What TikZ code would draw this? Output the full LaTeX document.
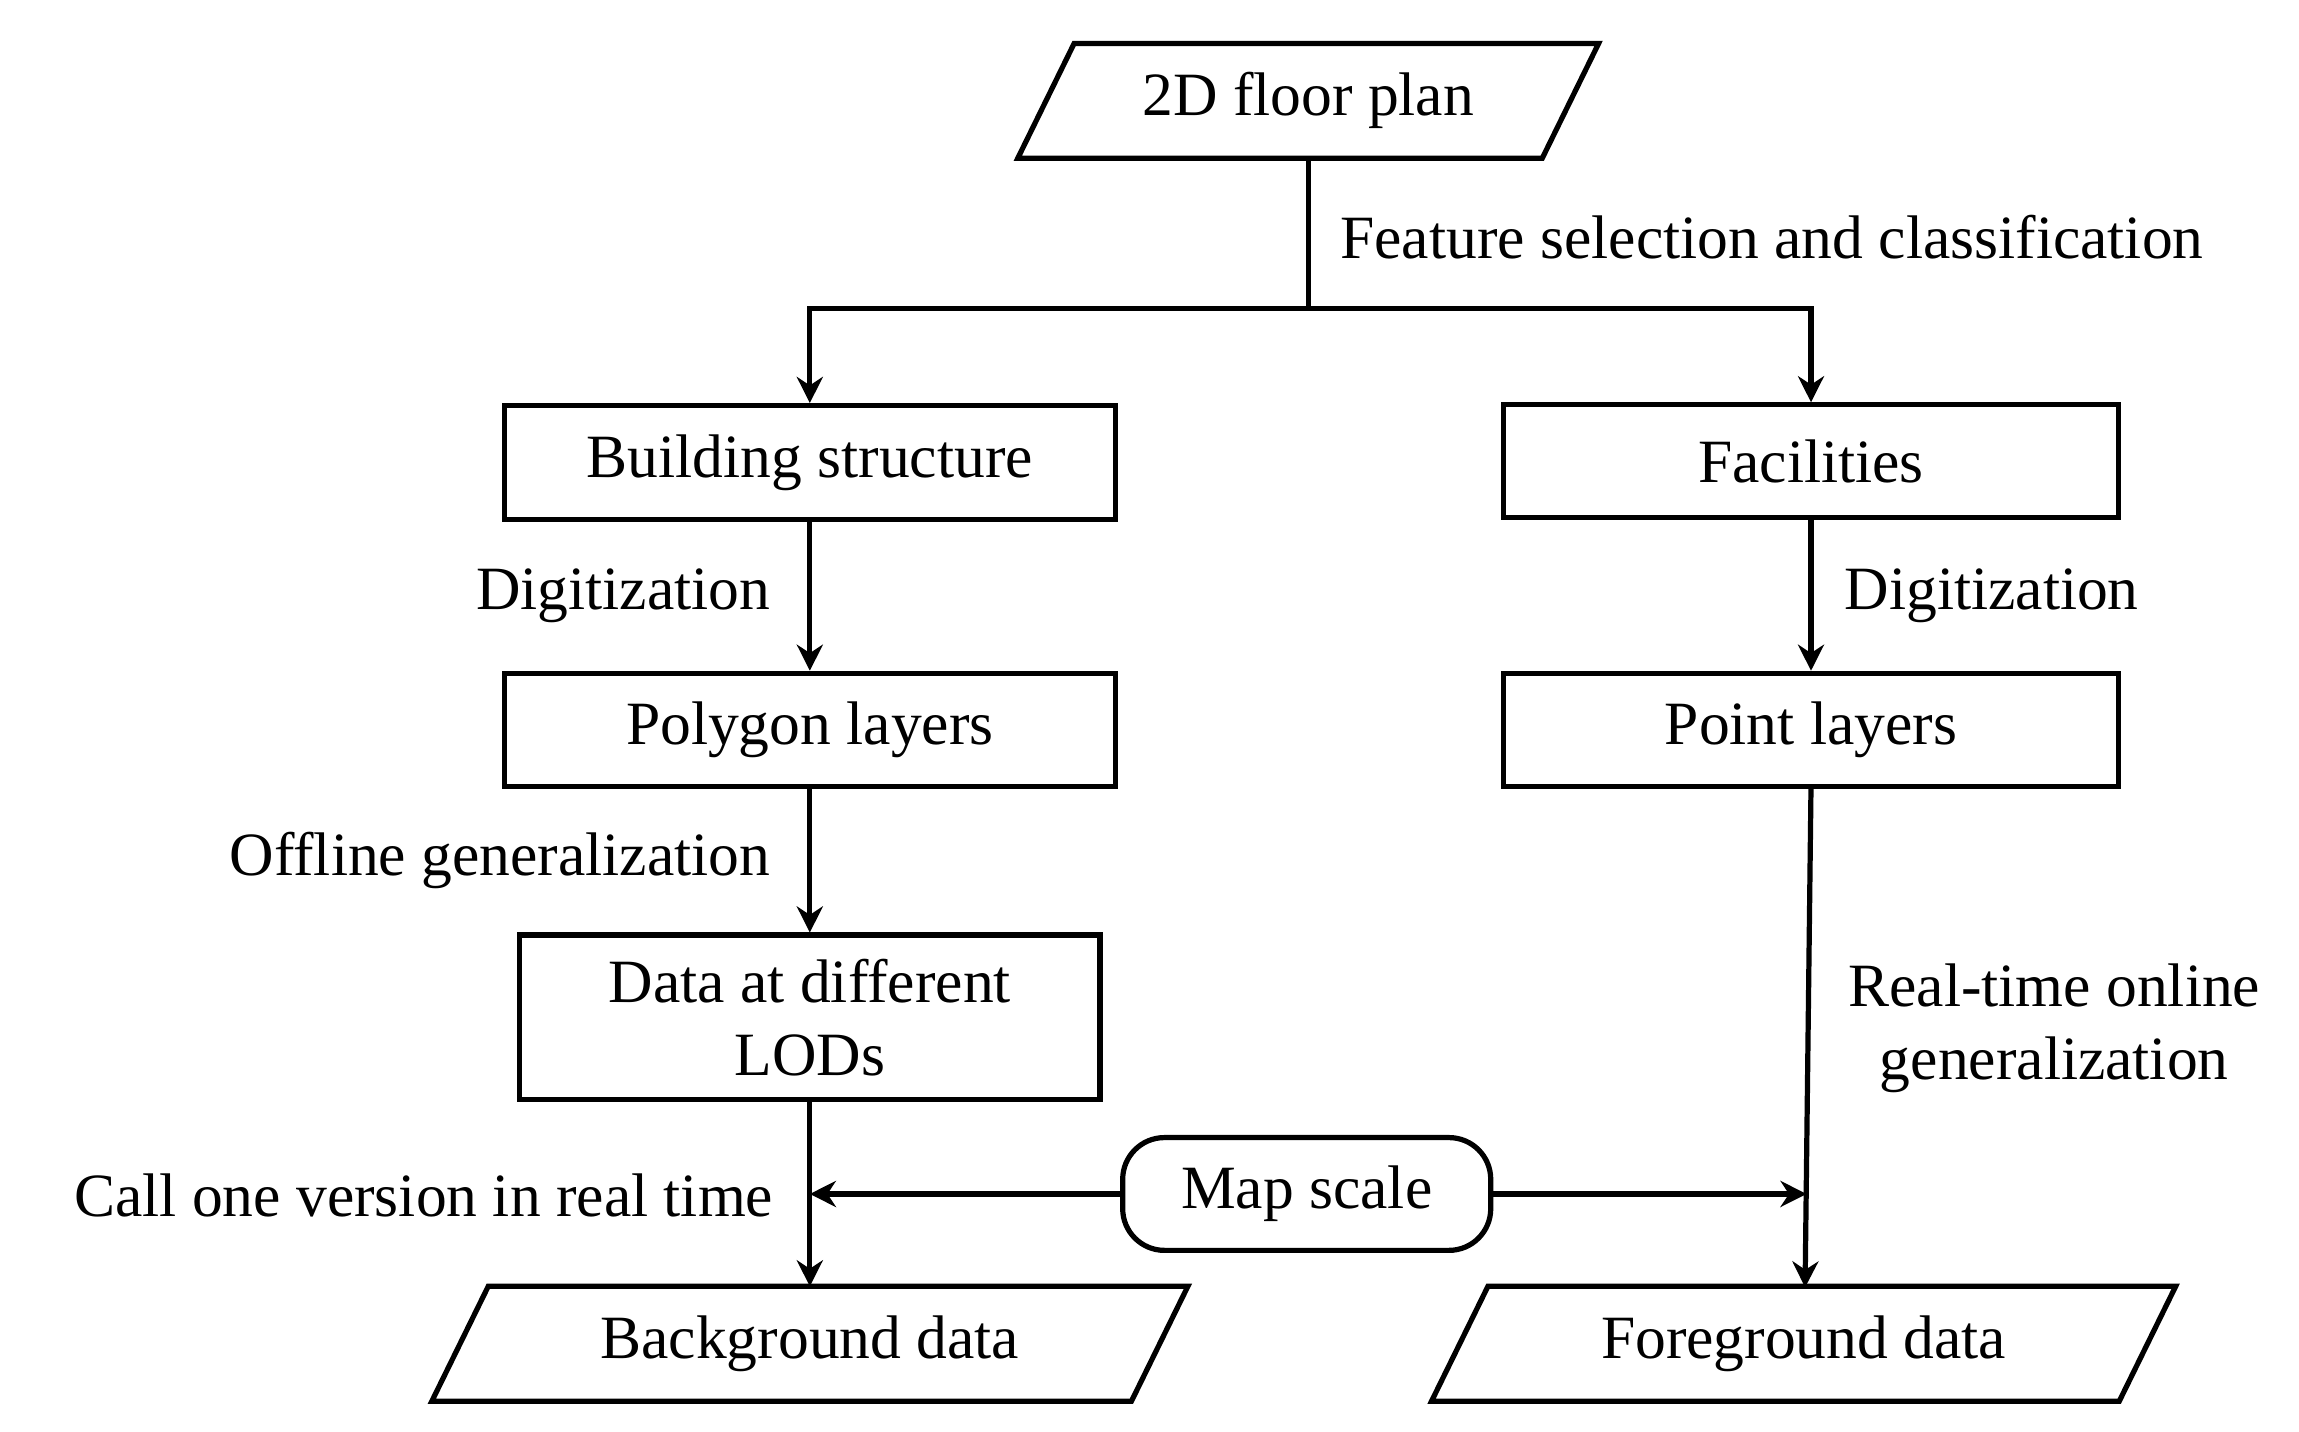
\documentclass[tikz,border=0pt]{standalone}
\usepackage{fontspec}
\setmainfont{Liberation Serif}
\usetikzlibrary{arrows.meta}
\begin{document}
\begin{tikzpicture}[x=0.01cm,y=-0.01cm,
  every node/.style={font=\fontsize{11.8}{14}\selectfont},
  box/.style={draw,line width=1pt,minimum width=#1,align=center,inner sep=0pt},
  pnode/.style={minimum width=#1,minimum height=0.76cm,inner sep=0pt},
  arr/.style={line width=1pt,-{Stealth[length=5pt,width=5pt]}},
  ln/.style={line width=1pt},
  lab/.style={inner sep=0pt}]
\useasboundingbox (0,0) rectangle (1550,965);
% parallelogram nodes
\node[pnode=3.52cm] (fp) at (882,68) {2D floor plan};
\draw[ln] ([xshift=0.19cm]fp.north west) -- ([xshift=0.19cm]fp.north east) -- ([xshift=-0.19cm]fp.south east) -- ([xshift=-0.19cm]fp.south west) -- cycle;
\node[pnode=4.70cm] (bg) at (546,906) {Background data};
\draw[ln] ([xshift=0.19cm]bg.north west) -- ([xshift=0.19cm]bg.north east) -- ([xshift=-0.19cm]bg.south east) -- ([xshift=-0.19cm]bg.south west) -- cycle;
\node[pnode=4.62cm] (fg) at (1216,906) {Foreground data};
\draw[ln] ([xshift=0.19cm]fg.north west) -- ([xshift=0.19cm]fg.north east) -- ([xshift=-0.19cm]fg.south east) -- ([xshift=-0.19cm]fg.south west) -- cycle;
% boxes
\node[box=4.12cm,minimum height=0.77cm] (bs) at (546,312) {Building structure};
\node[box=4.14cm,minimum height=0.76cm] (fa) at (1221,311) {Facilities};
\node[box=4.12cm,minimum height=0.76cm] (pl) at (546,492) {Polygon layers};
\node[box=4.14cm,minimum height=0.76cm] (pt) at (1221,492) {Point layers};
\node[box=3.91cm,minimum height=1.11cm] (lod) at (546,686) {Data at different\\LODs};
\node[box=2.48cm,minimum height=0.76cm,rounded corners=8pt] (ms) at (881,805) {Map scale};
% connectors
\coordinate (j) at (882,208);
\draw[ln] (fp.south) -- (j);
\draw[arr] (j) -| (bs.north);
\draw[arr] (j) -| (fa.north);
\draw[arr] (bs) -- (pl);
\draw[arr] (fa) -- (pt);
\draw[arr] (pl) -- (lod);
\draw[arr] (lod) -- (bg.north);
\draw[arr] (1221,530) -- (1217,868);
\coordinate (cl) at (546,805);
\coordinate (cr) at (1218,805);
\draw[arr] (ms) -- (cl);
\draw[arr] (ms) -- (cr);
% labels
\node[lab,anchor=west] (l1) at (903,160) {Feature selection and classification};
\node[lab,anchor=east] (l2) at (520,402) {Digitization};
\node[lab,anchor=west] (l3) at (1243,402) {Digitization};
\node[lab,anchor=east] (l4) at (520,580) {Offline generalization};
\node[lab,align=center] (l5) at (1385,693) {Real-time online\\generalization};
\node[lab,anchor=east] (l6) at (522,806) {Call one version in real time};
\end{tikzpicture}
\end{document}
